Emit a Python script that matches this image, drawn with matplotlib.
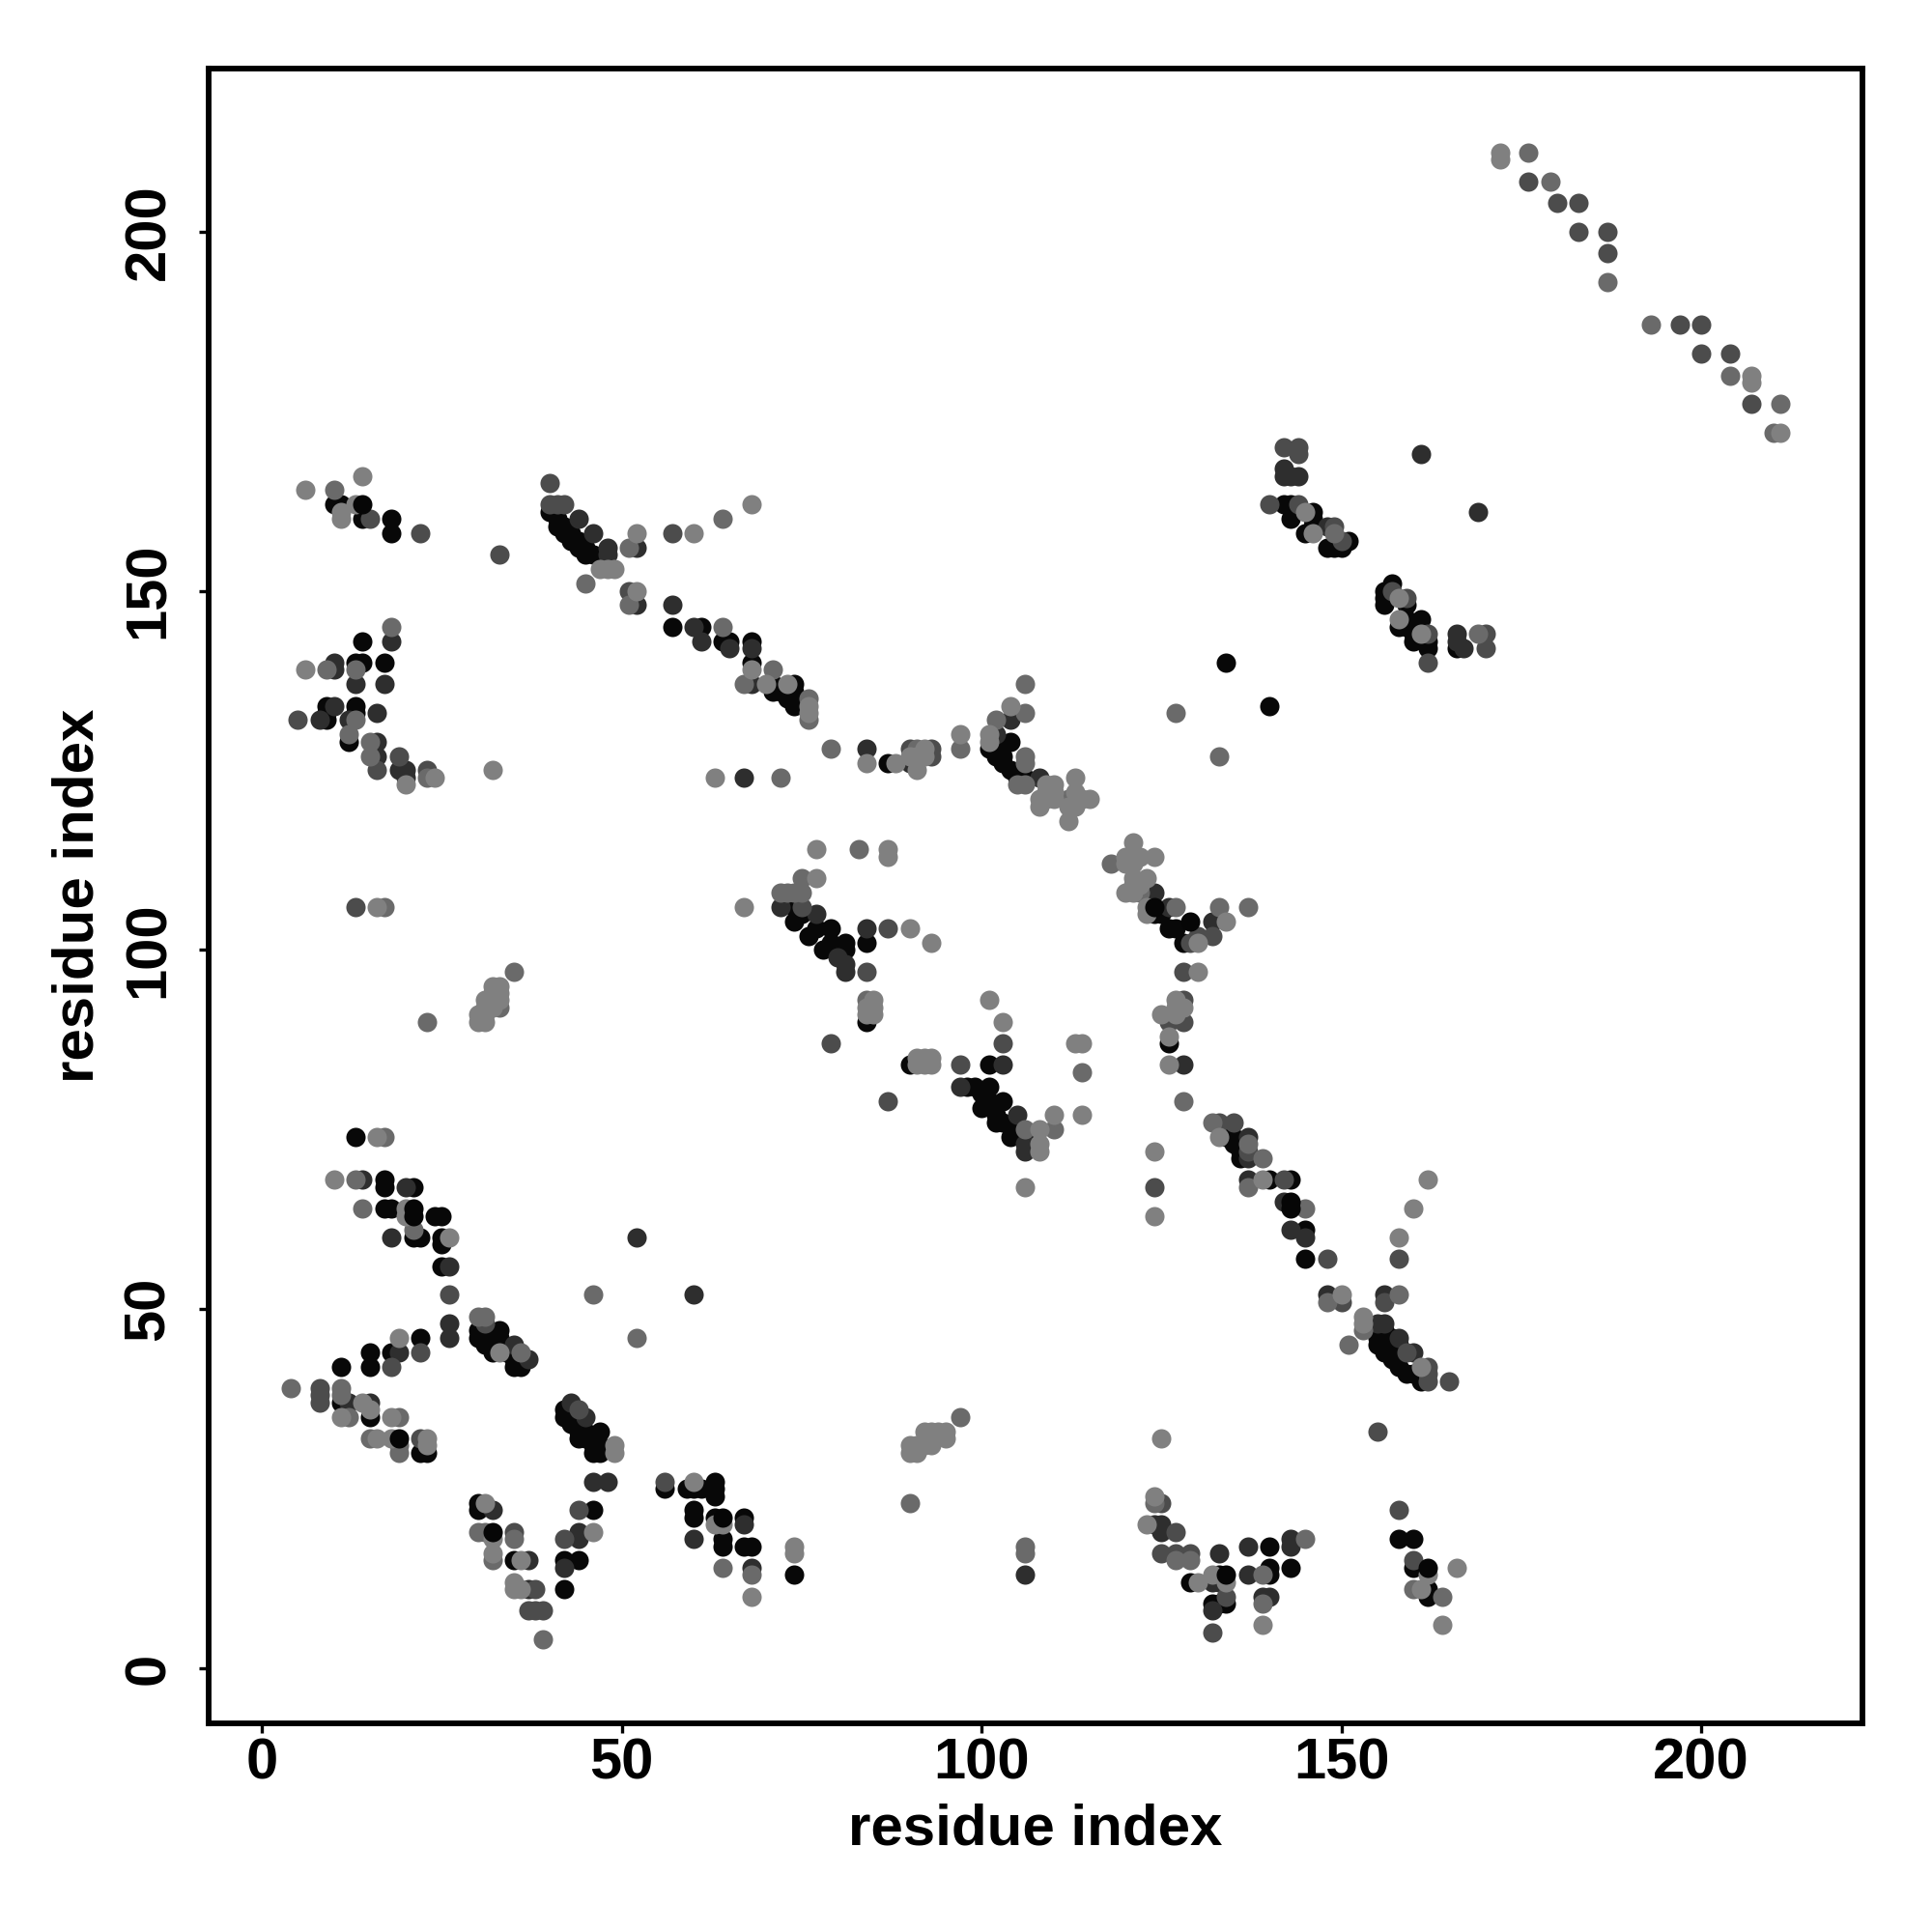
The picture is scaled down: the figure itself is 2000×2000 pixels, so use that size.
import matplotlib
matplotlib.use("Agg")
import matplotlib.pyplot as plt

# contacts, grouped by how dark the dot is
black_pts = [(42,11),(74,13),(42,15),(44,15),(35,15),(64,17),(67,17),(68,17),(64,18),(60,21),(63,21),
    (67,21),(30,22),(46,22),(60,22),(30,23),(56,25),(59,25),(60,25),(61,25),(63,25),(63,26),(63,24),
    (42,36),(42,35),(44,32),(45,33),(47,33),(46,30),(47,30),(46,31),(43,34),(44,33),(45,32),(47,31),(46,32),
    (11,37),(15,35),(22,30),(23,30),(11,42),(15,42),(15,44),(18,44),(22,46),(25,60),(25,59),(22,60),(21,60),
    (17,68),(17,67),(21,67),(17,64),(18,64),(24,63),(25,63),(25,56),(13,74),
    (30,47),(30,46),(33,47),(33,46),(32,44),(35,42),(36,42),(31,45),(31,46),(32,45),(34,44),(35,43),(36,43),
    (10,162),(11,162),(14,160),(18,160),(18,158),
    (40,161),(41,159),(42,158),(43,157),(44,156),(45,155),(46,155),(41,160),(42,159),(43,158),(44,157),(45,156),
    (57,145),(61,145),(64,143),(65,143),(68,143),(68,140),(71,137),(71,136),(74,137),(74,136),(74,135),(74,134),(72,136),(73,135),
    (14,143),(13,140),(14,140),(17,140),(9,134),(9,133),(9,132),(13,134),(13,133),(12,129),
    (134,140),(140,134),(104,129),(101,128),(102,128),(103,127),(103,126),(106,124),(105,124),(104,125),(102,127),
    (87,126),(126,103),(128,101),(125,105),(127,103),(124,105),
    (74,106),(79,103),(81,101),(84,101),(74,104),(76,102),(78,100),(81,100),(75,105),(77,103),(79,101),(80,100),
    (84,90),(90,84),(101,84),(98,81),(99,81),(101,81),(103,79),(100,78),(102,76),(104,74),(106,74),(100,80),(101,79),(102,77),(103,76),(105,75),
    (126,87),(134,74),(135,74),(136,71),(140,68),(143,68),(145,61),(145,57),(135,73),(136,72),
    (155,46),(155,45),(156,44),(157,43),(158,42),(159,41),(161,40),(160,41),(156,47),(157,46),(158,45),
    (140,17),(143,14),(140,14),(140,13),(129,12),(133,13),(132,9),(133,9),(134,9),(158,18),(160,18),(160,14),(162,11),(162,10),
    (142,162),(143,162),(143,160),(146,161),(146,160),(145,158),(146,159),(151,157),(148,156),(149,156),(150,156),
    (157,151),(156,150),(156,149),(156,148),(159,148),(158,145),(159,146),(159,145),(161,146),(160,144),(160,143),(162,143),(162,142),(166,142)]

dark_pts = [(37,11),(37,15),(68,14),(42,14),(44,18),(60,18),(44,19),(67,20),(32,22),(46,26),(48,26),(43,37),(45,35),(35,45),(37,43),
    (26,46),(26,48),(15,37),(12,37),(14,68),(20,67),(19,44),(18,60),(26,56),(52,60),(60,52),
    (46,158),(44,160),(48,156),(48,155),(52,156),(52,148),(57,148),(60,145),(61,143),(65,142),(68,142),(68,137),
    (18,143),(10,140),(10,139),(13,137),(17,137),(10,134),(8,132),(12,132),(16,133),(16,129),(16,127),(19,125),(20,125),(20,124),
    (102,130),(104,132),(108,124),(84,128),(90,126),(67,124),(72,106),(77,105),(84,103),(81,97),(81,98),(80,99),(128,84),(103,84),(97,81),
    (106,73),(106,72),(105,77),(132,104),(124,108),(126,106),(137,74),(137,71),(137,68),(142,65),(143,61),(145,60),(148,52),
    (155,48),(156,48),(156,52),(158,46),(160,44),(106,13),
    (124,20),(125,20),(125,19),(133,16),(137,17),(143,18),(143,17),(137,13),(132,12),(133,12),(132,8),(139,10),(140,10),
    (161,169),(169,161),(142,167),(142,166),(143,166),(144,166),(148,159),(166,144),(166,143),(167,142)]

mid_pts = [(38,11),(38,8),(37,8),(39,8),(22,32),(8,39),(8,37),(22,44),(18,42),(26,52),(56,26),(44,36),(31,48),(35,19),(44,22),(42,18),(8,38),
    (33,155),(40,165),(40,162),(41,162),(42,162),(57,158),(22,158),(15,160),(5,132),(19,127),(16,125),(23,125),
    (90,128),(93,128),(93,127),(75,106),(87,103),(84,97),(97,84),(79,87),(87,79),(103,87),(128,93),(128,90),(126,90),(132,102),(130,102),(129,101),
    (135,76),(133,76),(137,72),(142,68),(148,57),(158,57),(124,67),(156,51),(150,51),(155,33),(162,41),(162,40),(165,40),(162,42),(159,44),
    (127,19),(125,16),(127,16),(129,16),(125,23),(134,10),(132,5),(158,22),(160,15),(142,170),(144,170),(144,169),(140,162),(144,162),(149,159),
    (150,157),(159,149),(157,150),(162,144),(162,140),(170,144),(170,142),(51,150),(128,97),(13,106),
    (176,207),(180,204),(183,204),(183,200),(187,200),(187,197),(197,187),(200,187),(200,183),(204,183),(207,176)]

gray_pts = [(39,4),(4,39),(11,39),(11,38),(12,35),(15,32),(19,31),(19,30),(19,35),(35,18),(30,19),(31,19),(64,14),(68,13),(32,15),(17,74),
    (31,49),(30,49),(36,44),(21,61),(13,68),(14,64),(46,52),(52,46),
    (10,164),(45,151),(51,156),(51,148),(64,160),(64,145),(67,137),(71,139),(76,135),(76,132),(79,128),(18,145),(9,139),(13,139),(12,130),
    (15,129),(15,127),(13,132),(23,124),(106,137),(102,132),(106,133),(106,127),(106,126),(105,123),(106,123),(112,121),(97,128),(91,128),
    (127,133),(133,127),(72,124),(72,108),(73,108),(74,108),(75,108),(75,110),(83,114),(118,112),(121,113),(122,108),(127,106),(133,106),(137,106),
    (128,79),(114,83),(110,75),(106,75),(132,76),(137,73),(137,67),(139,71),(145,64),(148,51),(151,45),(153,47),(158,52),(139,13),(139,9),
    (129,15),(127,15),(145,18),(124,23),(160,11),(164,10),(149,158),(169,144),(106,17),(106,16),(23,90),(84,93),(33,92),(35,97),(17,106),
    (176,211),(179,207),(187,193),(193,187),(204,180),(211,176),(210,172),(97,35),(90,23)]

light_pts = [(35,11),(36,11),(35,12),(36,15),(32,16),(32,18),(46,19),(64,20),(63,20),(31,23),(60,26),(49,30),(49,31),(18,35),(15,36),(11,35),(14,37),
    (16,32),(18,32),(23,32),(23,31),(19,46),(26,60),(33,44),(16,74),(10,68),(20,64),(20,63),(6,164),(14,166),(13,162),(11,160),(11,161),(68,10),
    (47,153),(48,153),(49,153),(52,158),(52,150),(60,158),(68,162),(68,139),(70,137),(73,137),(76,134),(76,133),(6,139),(24,124),(32,125),(20,123),(63,124),
    (104,134),(101,130),(101,129),(97,130),(84,126),(88,126),(90,127),(91,127),(92,127),(92,128),(91,125),(77,114),(87,114),(87,113),(77,110),(67,106),
    (90,103),(93,101),(85,93),(84,92),(85,92),(84,91),(85,91),(101,93),(103,90),(113,87),(114,87),(91,85),(92,85),(93,85),(91,84),(92,84),(93,84),
    (110,77),(114,77),(108,75),(108,73),(108,72),(106,67),(124,72),(124,63),(121,115),(124,113),(120,113),(122,113),(120,112),(121,112),(121,110),
    (123,110),(121,109),(122,109),(120,108),(121,108),(123,106),(123,105),(134,104),(130,101),(130,97),(127,93),(127,92),(127,91),(125,91),(128,92),
    (126,88),(126,84),(133,74),(139,68),(162,68),(160,64),(158,60),(150,52),(153,49),(153,48),(161,42),(125,32),(124,24),(123,20),(132,13),(134,12),
    (130,12),(139,6),(166,14),(162,13),(161,11),(164,6),(145,161),(146,158),(158,149),(158,146),(161,144),(16,106),(172,211),(172,210),(207,180),(207,179),
    (211,172),(90,31),(91,31),(90,30),(91,30),(92,33),(93,33),(94,33),(95,33),(93,32),(95,32),(93,31),(92,31),
    (30,90),(30,91),(31,90),(31,91),(31,92),(31,93),(32,92),(32,93),(32,94),(32,95),(33,93),(33,94),(33,95),(74,17),(74,16),
    (108,121),(108,120),(109,123),(109,122),(109,121),(110,123),(110,122),(110,121),(113,124),(113,122),(113,120),(112,120),(112,118),(115,121),(114,121)]

# black dots that sit on top of the lighter ones
top_pts = [(19,32),(32,19),(162,14),(134,13),(143,64),(143,65),(64,21),(14,162),(21,64),(21,63),(124,106),(129,104)]

groups = [(black_pts, '#080808'), (dark_pts, '#2e2e2e'), (mid_pts, '#4c4c4c'),
          (gray_pts, '#6a6a6a'), (light_pts, '#808080'), (top_pts, '#060606')]
ticks = [0, 50, 100, 150, 200]

plt.rcParams['font.family'] = ['Liberation Sans', 'DejaVu Sans']
plt.rcParams['font.weight'] = 'bold'

fig = plt.figure(figsize=(10, 10), dpi=200)
ax = fig.add_axes([216/2000, 1-1784/2000, 1712/2000, 1713/2000])

for pts, colour in groups:
    xs, ys = zip(*pts)
    ax.scatter(xs, ys, s=52, c=colour, linewidths=0)

ax.set_xlim(-7.4, 222.4)
ax.set_ylim(-7.67, 222.7)
ax.set_xticks(ticks)
ax.set_yticks(ticks)
ax.tick_params(axis='x', width=1.2, length=3.6, labelsize=21.5, pad=1.7)
ax.tick_params(axis='y', width=1.2, length=3.6, labelsize=21.5, pad=8.6)
for label in ax.get_yticklabels():
    label.set_rotation(90)
    label.set_verticalalignment('center')
for spine in ax.spines.values():
    spine.set_linewidth(2.1)
ax.set_xlabel("residue index", fontsize=21.6, fontweight='bold', labelpad=4.5)
ax.set_ylabel("residue index", fontsize=21.6, fontweight='bold', labelpad=6.7)

fig.savefig("out.png", dpi=200)
